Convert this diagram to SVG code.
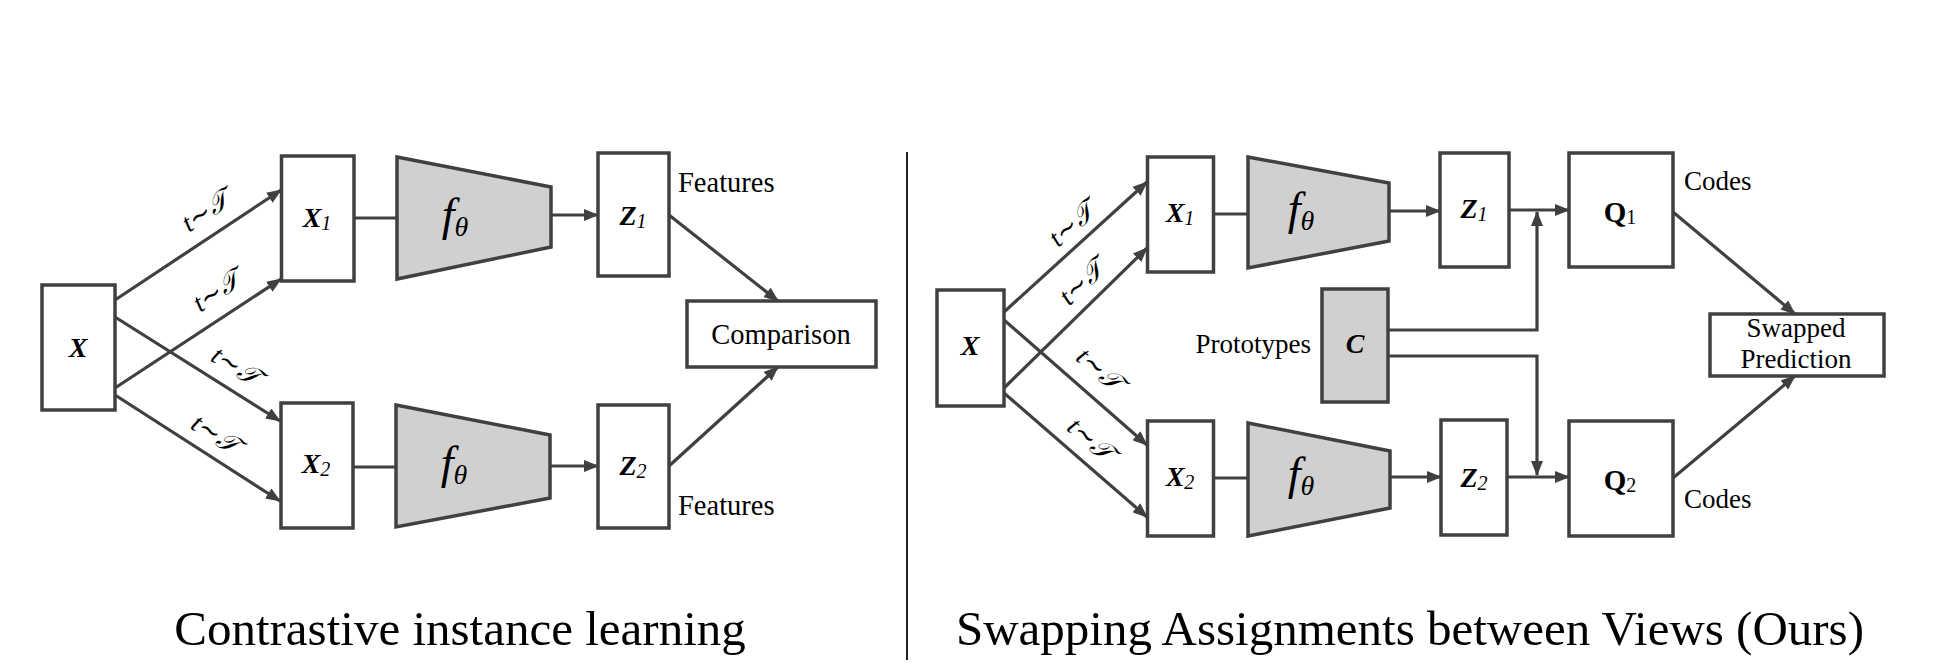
<svg xmlns="http://www.w3.org/2000/svg" width="1948" height="664" viewBox="0 0 1948 664" font-family="Liberation Serif, DejaVu Serif, serif">
<style>
.box{fill:#fff;stroke:#404040;stroke-width:3.5}
.gray{fill:#d1d0d0;stroke:#404040;stroke-width:3.5}
.ln{fill:none;stroke:#404040;stroke-width:3.2}
.arr{fill:none;stroke:#404040;stroke-width:3.2;marker-end:url(#ah)}
text{fill:#000}
.lab{font-size:27px}
.lab2{font-size:28.5px}
.var{font-size:28px;font-weight:bold;font-style:italic}
.sub{font-size:20px;font-weight:normal;font-style:italic}
.subr{font-size:20px;font-weight:normal;font-style:normal}
.tt{font-size:27px;font-style:italic}
.f{font-size:46px;font-style:italic}
.th{font-size:28px;font-style:italic}
.title{font-size:49px}
</style>
<defs>
<marker id="ah" markerUnits="userSpaceOnUse" markerWidth="15" markerHeight="12" refX="14" refY="6" orient="auto">
<path d="M0,0 L15,6 L0,12 z" fill="#404040"/>
</marker>
</defs>

<g id="connectors">
<line class="arr" x1="115" y1="300" x2="281" y2="190"/>
<line class="arr" x1="115" y1="388" x2="281" y2="279"/>
<line class="arr" x1="115" y1="317" x2="280" y2="421"/>
<line class="arr" x1="115" y1="395" x2="280" y2="501"/>
<line class="ln" x1="354" y1="218" x2="397" y2="218"/>
<line class="ln" x1="353" y1="467" x2="396" y2="467"/>
<line class="arr" x1="551" y1="215" x2="598" y2="215"/>
<line class="arr" x1="550" y1="466" x2="598" y2="466"/>
<line class="arr" x1="669" y1="215" x2="778" y2="301"/>
<line class="arr" x1="669" y1="466" x2="778" y2="367"/>
<g transform="translate(206,212) rotate(-33.5)"><text class="tt" x="0" y="8" text-anchor="middle">t∼𝒯</text></g>
<g transform="translate(217,292) rotate(-33.7)"><text class="tt" x="0" y="8" text-anchor="middle">t∼𝒯</text></g>
<g transform="translate(235,367) rotate(32.4)"><text class="tt" x="0" y="8" text-anchor="middle">t∼𝒯</text></g>
<g transform="translate(215,435) rotate(33)"><text class="tt" x="0" y="8" text-anchor="middle">t∼𝒯</text></g>
<line class="arr" x1="1004" y1="312" x2="1147" y2="182"/>
<line class="arr" x1="1004" y1="388" x2="1147" y2="248"/>
<line class="arr" x1="1004" y1="320" x2="1147" y2="445"/>
<line class="arr" x1="1004" y1="393" x2="1147" y2="517"/>
<line class="ln" x1="1214" y1="214" x2="1248" y2="214"/>
<line class="ln" x1="1214" y1="478" x2="1248" y2="478"/>
<line class="arr" x1="1389" y1="211" x2="1440" y2="211"/>
<line class="arr" x1="1390" y1="477" x2="1441" y2="477"/>
<line class="arr" x1="1509" y1="210" x2="1569" y2="210"/>
<line class="arr" x1="1507" y1="477" x2="1569" y2="477"/>
<polyline class="arr" points="1388,330 1537,330 1537,212"/>
<polyline class="arr" points="1388,356 1537,356 1537,475"/>
<line class="arr" x1="1673" y1="212" x2="1795" y2="314"/>
<line class="arr" x1="1673" y1="478" x2="1795" y2="376"/>
<g transform="translate(1072,225) rotate(-42)"><text class="tt" x="0" y="8" text-anchor="middle">t∼𝒯</text></g>
<g transform="translate(1082,283) rotate(-44)"><text class="tt" x="0" y="8" text-anchor="middle">t∼𝒯</text></g>
<g transform="translate(1099,370) rotate(41)"><text class="tt" x="0" y="8" text-anchor="middle">t∼𝒯</text></g>
<g transform="translate(1090,440) rotate(41)"><text class="tt" x="0" y="8" text-anchor="middle">t∼𝒯</text></g>
</g>

<g id="L_X"><rect class="box" x="42" y="285" width="73" height="125"/><text class="var" x="78" y="357" text-anchor="middle">X</text></g>
<g id="L_X1"><rect class="box" x="281.5" y="156" width="72.5" height="125"/><text class="var" x="317" y="227" text-anchor="middle">X<tspan class="sub" dy="3">1</tspan></text></g>
<g id="L_X2"><rect class="box" x="281" y="403" width="72" height="125"/><text class="var" x="316" y="473" text-anchor="middle">X<tspan class="sub" dy="3">2</tspan></text></g>
<g id="L_F1"><polygon class="gray" points="397,157 551,187 551,247 397,279"/><text x="455" y="230" text-anchor="middle"><tspan class="f">f</tspan><tspan class="th" dy="6">θ</tspan></text></g>
<g id="L_F2"><polygon class="gray" points="396,405 550,435 550,498 396,527"/><text x="454" y="478" text-anchor="middle"><tspan class="f">f</tspan><tspan class="th" dy="6">θ</tspan></text></g>
<g id="L_Z1"><rect class="box" x="598" y="153" width="71" height="123"/><text class="var" x="633" y="225" text-anchor="middle">Z<tspan class="sub" dy="3">1</tspan></text><text class="lab2" x="678" y="192">Features</text></g>
<g id="L_Z2"><rect class="box" x="598" y="405" width="71" height="123"/><text class="var" x="633" y="475" text-anchor="middle">Z<tspan class="sub" dy="3">2</tspan></text><text class="lab2" x="678" y="515">Features</text></g>
<g id="L_Comp"><rect class="box" x="687" y="301" width="189" height="66"/><text class="lab2" x="781" y="344" text-anchor="middle">Comparison</text></g>

<line id="divider" x1="907" y1="152" x2="907" y2="660" stroke="#222" stroke-width="2"/>

<g id="R_X"><rect class="box" x="937" y="290" width="67" height="116"/><text class="var" x="970" y="355" text-anchor="middle">X</text></g>
<g id="R_X1"><rect class="box" x="1147.5" y="157" width="66" height="115"/><text class="var" x="1180" y="222" text-anchor="middle">X<tspan class="sub" dy="3">1</tspan></text></g>
<g id="R_X2"><rect class="box" x="1147.5" y="421" width="66" height="115"/><text class="var" x="1180" y="486" text-anchor="middle">X<tspan class="sub" dy="3">2</tspan></text></g>
<g id="R_F1"><polygon class="gray" points="1248,157 1389,183 1389,241 1248,268"/><text x="1301" y="224" text-anchor="middle"><tspan class="f">f</tspan><tspan class="th" dy="6">θ</tspan></text></g>
<g id="R_F2"><polygon class="gray" points="1248,423 1390,451 1390,508 1248,536"/><text x="1301" y="489" text-anchor="middle"><tspan class="f">f</tspan><tspan class="th" dy="6">θ</tspan></text></g>
<g id="R_C"><rect class="gray" x="1322" y="289" width="66" height="113"/><text class="var" x="1355" y="353" text-anchor="middle">C</text><text class="lab" x="1311" y="353" text-anchor="end">Prototypes</text></g>
<g id="R_Z1"><rect class="box" x="1440" y="153" width="69" height="114"/><text class="var" x="1474" y="218" text-anchor="middle">Z<tspan class="sub" dy="3">1</tspan></text></g>
<g id="R_Z2"><rect class="box" x="1441" y="420" width="66" height="115"/><text class="var" x="1474" y="487" text-anchor="middle">Z<tspan class="sub" dy="3">2</tspan></text></g>
<g id="R_Q1"><rect class="box" x="1569" y="153" width="104" height="114"/><text x="1620" y="222" text-anchor="middle" style="font-size:29px;font-weight:bold">Q<tspan class="subr" dy="2">1</tspan></text><text class="lab" x="1684" y="190">Codes</text></g>
<g id="R_Q2"><rect class="box" x="1569" y="421" width="104" height="115"/><text x="1620" y="490" text-anchor="middle" style="font-size:29px;font-weight:bold">Q<tspan class="subr" dy="2">2</tspan></text><text class="lab" x="1684" y="508">Codes</text></g>
<g id="R_SP"><rect class="box" x="1710" y="314" width="174" height="62"/><text class="lab" x="1796" y="337" text-anchor="middle">Swapped</text><text class="lab" x="1796" y="368" text-anchor="middle">Prediction</text></g>

<text class="title" x="460" y="645" text-anchor="middle">Contrastive instance learning</text>
<text class="title" x="1410" y="645" text-anchor="middle">Swapping Assignments between Views (Ours)</text>
</svg>
